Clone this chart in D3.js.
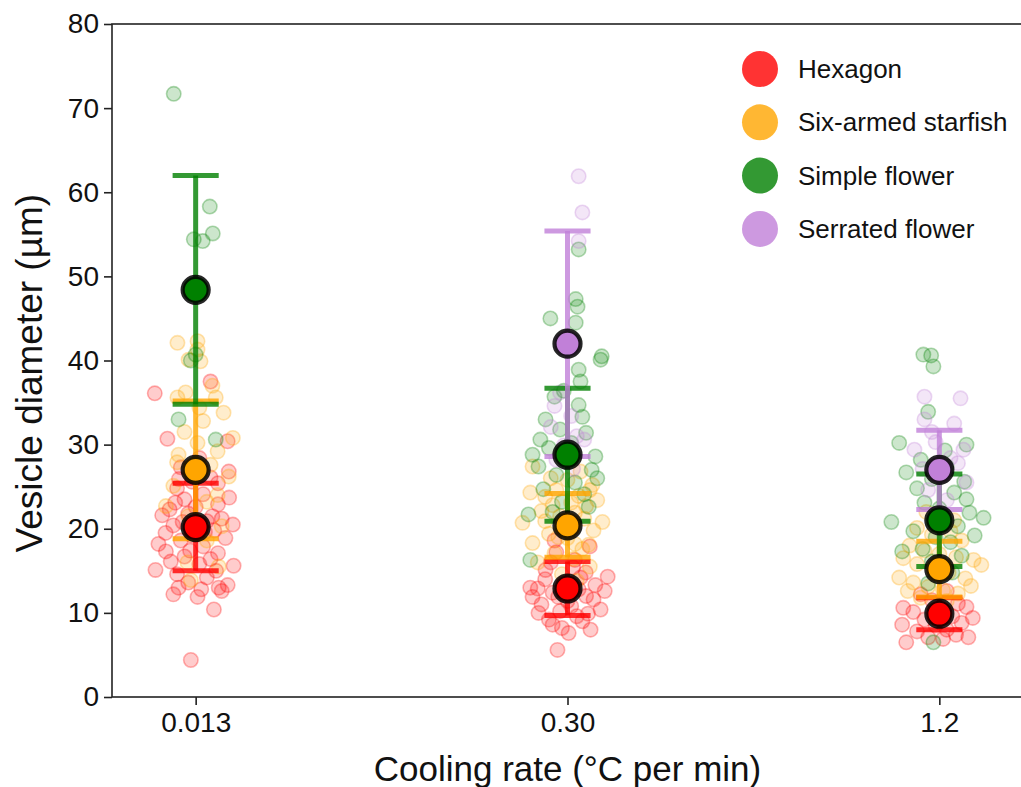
<!DOCTYPE html>
<html>
<head>
<meta charset="utf-8">
<script src="https://cdn.jsdelivr.net/npm/d3@7"></script>
<style>
  html, body { margin: 0; padding: 0; background: #fff; }
  svg { display: block; font-family: "Liberation Sans", Arial, sans-serif; }
</style>
</head>
<body>
<div id="chart"></div>
<script>
const categories = ['0.013', '0.30', '1.2'];
const groups = ['Hexagon', 'Six-armed starfish', 'Simple flower', 'Serrated flower'];
const colors = ['#ff0000', '#ffa500', '#008000', '#c180d8'];
const yTicks = [0, 10, 20, 30, 40, 50, 60, 70, 80];

// mean and standard deviation, one entry per category (null = not observed)
const hexMean = [20.2, 12.9, 9.9];
const hexSd = [5.2, 3.2, 1.9];
const starMean = [27.0, 20.4, 15.2];
const starSd = [8.2, 3.8, 3.3];
const simpleMean = [48.4, 28.8, 21.0];
const simpleSd = [13.6, 7.9, 5.5];
const serrMean = [null, 42.0, 27.0];
const serrSd = [null, 13.4, 4.7];

// individual vesicles: [jitter (category units), diameter]
const hex013 = [[-0.11,36.1],[0.04,37.5],[-0.076,30.7],[0.086,30.4],[0.089,26.8],[-0.081,19.5],[-0.108,15.1],[0.102,15.6],[0.049,10.4],[-0.013,4.4],[-0.067,16.1],[-0.046,13],[0.005,11.9],[0.062,13],[0.086,13.3],
  [-0.05,24.8],[-0.03,23.5],[0.02,24.1],[0.06,22.9],[-0.07,22.3],[0.07,21.2],[-0.02,21.8],[0.03,20.9],[-0.06,20.4],[0.05,19.8],[-0.01,19.2],[-0.04,18.6],[0.08,18.9],[0.02,17.9],[-0.08,17.3],[0.06,17.1],[-0.03,16.7],[0.04,16.4],[0.01,15.8],[-0.05,14.6],[0.03,14.2],[-0.02,13.6],[0.07,12.6],[-0.06,12.2],[0.0,22.6],[0.04,26.1],[-0.04,27.3],[0.09,23.7],[-0.09,21.6],[0.01,28.4],[-0.01,25.6],[0.06,25.4],[0.1,20.5],[-0.1,18.2],
  [-0.035,20.8],[0.025,19.6],[-0.055,23.1],[0.045,21.5],[-0.015,17.4],[0.055,15.0],[-0.045,25.9],[0.015,12.8]];
const star013 = [[-0.049,42.1],[0.005,42.3],[0.005,41.3],[-0.019,40.1],[0.013,39.9],[-0.049,35.6],[-0.027,36.2],[0.054,35.6],[0.075,33.8],[-0.046,28.8],[0.059,29.2],[0.005,30.2],[0.089,26.2],[0.04,27.6],[0.059,24],[-0.022,16],[0.062,15.5],[-0.013,13.9],
  [-0.03,31.5],[0.02,32.8],[-0.06,25.1],[0.03,23.2],[-0.02,21.5],[0.07,20.3],[-0.05,27.9],[0.01,34.4],[0.1,30.8],[-0.08,22.7],[0.03,18.6],[0.045,37.0]];
const simple013 = [[-0.059,71.7],[0.038,58.3],[0.046,55.1],[-0.005,54.4],[0.019,54.2],[0.0,40.7],[-0.013,40.0],[-0.046,33],[0.054,30.6]];
const serr013 = [];

const hex030 = [[0.108,14.3],[0.075,13.3],[0.089,10.4],[0.062,8],[-0.027,5.6],[-0.094,11.9],[-0.078,10],[-0.04,8.6],[0.003,7.6],[-0.059,15.1],[0.049,14.8],
  [-0.03,17.2],[0.02,16.3],[-0.06,14.0],[-0.01,13.6],[0.03,12.8],[-0.04,12.4],[0.05,12.0],[0.0,11.4],[-0.07,11.0],[0.07,11.6],[-0.02,10.2],[0.025,9.6],[-0.05,9.2],[0.04,9.0],[-0.015,8.2],[0.1,12.6],[-0.1,13.0],[0.015,15.4],[-0.035,18.6],[0.06,17.9],
  [-0.045,16.0],[0.035,14.2],[-0.08,12.9],[0.01,10.8],[-0.025,11.9],[0.055,9.9]];
const star030 = [[-0.121,20.7],[0.094,20.8],[-0.094,27.4],[0.067,25.2],[-0.094,18.3],[0.057,18.1],
  [-0.06,23.8],[-0.03,24.6],[0.0,25.8],[0.03,23.9],[0.05,22.7],[-0.07,22.1],[-0.02,21.5],[0.02,21.9],[0.07,19.8],[-0.05,19.4],[0.0,18.9],[0.04,17.6],[-0.035,17.1],[0.015,16.4],[-0.08,16.0],[0.06,15.5],[-0.01,20.2],[0.035,26.8],[-0.045,26.0],[0.01,23.1],[-0.015,14.6],[0.025,13.8],[-0.06,20.9],[0.08,23.4],[-0.1,24.3],
  [-0.04,22.8],[0.045,21.2],[-0.025,19.0],[0.02,18.2],[0.06,24.6]];
const simple030 = [[0.03,53.2],[0.022,47.3],[0.027,46.4],[-0.046,45],[0.022,44.5],[0.092,40.5],[0.089,40.1],[0.03,38.9],[0.035,37.5],[-0.035,35.7],[-0.073,30.6],[-0.094,28.8],[0.075,28.6],[-0.078,27.4],[-0.105,21.7],[-0.1,16.3],[0.057,22.6],[-0.059,33],[0.04,33.3],
  [-0.02,31.8],[0.01,30.2],[0.05,31.4],[-0.05,29.6],[0.0,27.9],[0.065,27.0],[-0.03,26.4],[0.02,25.5],[-0.065,24.7],[0.045,24.1],[-0.015,23.2],[0.08,26.0],[-0.04,22.0],[0.03,34.7],[-0.01,36.4],[0.015,42.3]];
const serr030 = [[0.03,61.9],[0.04,57.6],[0.03,54.2],[-0.02,36.2],[-0.035,34.6],[0.01,33.4],[-0.045,32.1],[0.025,31.0],[-0.01,29.9],[0.045,30.6],[-0.03,28.2],[0.015,27.1]];

const hex12 = [[-0.089,6.5],[0.078,7.1],[-0.097,10.6],[0.073,10.7],
  [-0.05,12.2],[0.02,12.6],[-0.02,11.5],[0.05,11.1],[-0.07,10.1],[0.0,10.4],[0.035,9.6],[-0.04,9.2],[0.06,8.8],[-0.01,8.5],[0.02,8.0],[-0.06,7.8],[0.045,7.4],[-0.03,7.1],[0.01,6.9],[0.09,9.4],[-0.1,8.6]];
const star12 = [[-0.097,16.5],[0.113,15.7],[-0.108,14.2],[0.092,16.3],
  [-0.06,20.1],[-0.02,19.3],[0.03,19.7],[0.06,18.6],[-0.08,18.0],[-0.04,17.4],[0.0,17.0],[0.045,16.6],[-0.06,15.8],[-0.015,15.4],[0.025,14.8],[0.07,14.1],[-0.07,13.6],[-0.03,13.1],[0.01,12.7],[0.05,12.3],[-0.05,11.8],[0.02,11.4],[-0.085,12.6],[0.085,13.2],[0.0,21.4],[-0.035,22.0],[0.04,21.0]];
const simple12 = [[-0.043,40.7],[-0.022,40.6],[-0.016,39.3],[-0.03,33.9],[-0.108,30.2],[0.073,30],[-0.089,26.7],[0.067,25.6],[-0.129,20.8],[0.119,21.3],[0.081,21.9],[0.073,23.5],[-0.016,6.5],
  [-0.05,28.2],[0.02,27.4],[-0.06,24.8],[-0.02,25.9],[0.04,24.3],[-0.04,23.1],[0.0,22.4],[0.05,20.3],[-0.07,19.7],[-0.01,19.0],[0.03,18.4],[-0.045,17.6],[0.06,16.8],[-0.02,16.1],[0.015,29.3],[0.095,19.2],[-0.1,17.3],[0.035,14.8],[-0.03,13.5]];
const serr12 = [[-0.04,35.7],[0.057,35.5],[-0.04,33],[-0.067,29.4],[0.065,29.4],[0.073,25.5],
  [-0.02,31.5],[0.03,28.4],[-0.045,27.1],[0.01,26.3],[0.05,27.8],[-0.03,24.6],[0.02,23.4],[-0.01,30.3],[0.04,32.5]];

const means = [hexMean, starMean, simpleMean, serrMean];
const sds = [hexSd, starSd, simpleSd, serrSd];
const points = [
  [hex013, hex030, hex12],
  [star013, star030, star12],
  [simple013, simple030, simple12],
  [serr013, serr030, serr12]
];

const width = 1021, height = 787;
const svg = d3.select('#chart').append('svg')
  .attr('width', width).attr('height', height);

const x = d3.scaleLinear().domain([-0.225, 2.225]).range([112, 1023]);
const y = d3.scaleLinear().domain([0, 80]).range([697, 24]);

// frame
svg.append('rect')
  .attr('x', x.range()[0]).attr('y', y.range()[1])
  .attr('width', x.range()[1] - x.range()[0]).attr('height', y.range()[0] - y.range()[1])
  .attr('fill', 'none').attr('stroke', '#222').attr('stroke-width', 1.6);

// axes
const styleAxis = (sel) => {
  sel.select('.domain').remove();
  sel.selectAll('line').attr('stroke', '#222').attr('stroke-width', 1.6);
  sel.selectAll('text').attr('fill', '#111').style('font-size', '28px')
    .style('font-family', '"Liberation Sans", Arial, sans-serif');
};
svg.append('g').attr('transform', `translate(${x.range()[0]},0)`)
  .call(d3.axisLeft(y).tickValues(yTicks).tickSize(8).tickPadding(5))
  .call(styleAxis);
svg.append('g').attr('transform', `translate(0,${y.range()[0]})`)
  .call(d3.axisBottom(x).tickValues([0, 1, 2]).tickFormat((d) => categories[d]).tickSize(8).tickPadding(7))
  .call(styleAxis);

svg.append('text')
  .attr('x', x(1)).attr('y', 781)
  .attr('text-anchor', 'middle').attr('fill', '#111')
  .style('font-size', '35px')
  .text('Cooling rate (°C per min)');
svg.append('text')
  .attr('transform', `translate(42,${y(38.5)}) rotate(-90)`)
  .attr('text-anchor', 'middle').attr('fill', '#111')
  .style('font-size', '37px')
  .text('Vesicle diameter (µm)');

// scatter of individual vesicles
groups.forEach((g, gi) => {
  points[gi].forEach((arr, ci) => {
    svg.append('g').selectAll('circle').data(arr).enter().append('circle')
      .attr('cx', (d) => x(ci + d[0]))
      .attr('cy', (d) => y(d[1]))
      .attr('r', 7.2)
      .attr('fill', colors[gi]).attr('fill-opacity', 0.2)
      .attr('stroke', colors[gi]).attr('stroke-opacity', 0.3).attr('stroke-width', 1.6);
  });
});

// error bars (mean ± SD)
const capHalf = 0.062;
groups.forEach((g, gi) => {
  const rows = categories.map((c, ci) => ({ ci, m: means[gi][ci], s: sds[gi][ci] }))
    .filter((d) => d.m != null);
  const eb = svg.append('g').attr('stroke', colors[gi]).attr('stroke-opacity', 0.8).attr('stroke-width', 5);
  rows.forEach((d) => {
    eb.append('line').attr('x1', x(d.ci)).attr('x2', x(d.ci))
      .attr('y1', y(d.m - d.s)).attr('y2', y(d.m + d.s));
    [d.m - d.s, d.m + d.s].forEach((v) => {
      eb.append('line').attr('x1', x(d.ci - capHalf)).attr('x2', x(d.ci + capHalf))
        .attr('y1', y(v)).attr('y2', y(v));
    });
  });
});

// mean markers
groups.forEach((g, gi) => {
  const rows = categories.map((c, ci) => ({ ci, m: means[gi][ci] })).filter((d) => d.m != null);
  svg.append('g').selectAll('circle').data(rows).enter().append('circle')
    .attr('cx', (d) => x(d.ci)).attr('cy', (d) => y(d.m))
    .attr('r', 13)
    .attr('fill', colors[gi])
    .attr('stroke', '#000').attr('stroke-opacity', 0.85).attr('stroke-width', 4.2);
});

// legend
const legend = svg.append('g').attr('transform', 'translate(760,69)');
groups.forEach((g, gi) => {
  const row = legend.append('g').attr('transform', `translate(0,${gi * 53.3})`);
  row.append('circle').attr('r', 18).attr('fill', colors[gi]).attr('fill-opacity', 0.8);
  row.append('text').attr('x', 38).attr('y', 9).attr('fill', '#111')
    .style('font-size', '26px').text(g);
});
</script>
</body>
</html>
